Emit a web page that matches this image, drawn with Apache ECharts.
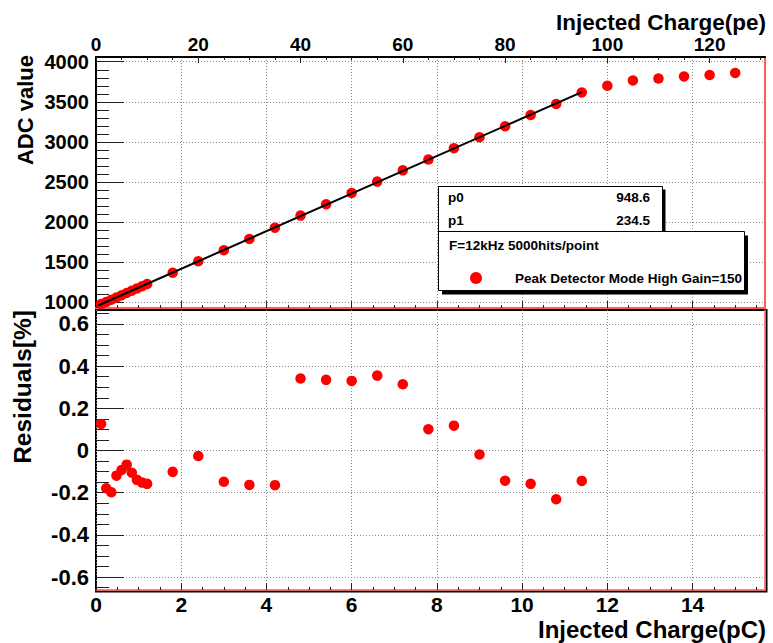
<!DOCTYPE html>
<html>
<head>
<meta charset="utf-8">
<script src="https://cdn.jsdelivr.net/npm/echarts@6/dist/echarts.min.js"></script>
<style>
html,body{margin:0;padding:0;background:#fff;}
#chart{width:773px;height:643px;}
</style>
</head>
<body>
<div id="chart"></div>
<script>
// ---- data ----
const chargePC = [0.12,0.24,0.36,0.48,0.60,0.72,0.84,0.96,1.08,1.20,1.8,2.4,3.0,3.6,4.2,4.8,5.4,6.0,6.6,7.2,7.8,8.4,9.0,9.6,10.2,10.8,11.4,12.0,12.6,13.2,13.8,14.4,15.0];
const adcValue = [978.0,1003.1,1031.0,1059.9,1088.3,1116.7,1144.4,1172.1,1200.0,1228.1,1369.3,1511.0,1649.7,1789.9,1930.3,2081.3,2222.3,2363.4,2505.2,2645.3,2780.5,2921.8,3058.5,3195.2,3335.2,3473.2,3616.7,3700,3766,3790,3816,3834,3860];
const residualPC = [0.12,0.24,0.36,0.48,0.60,0.72,0.84,0.96,1.08,1.20,1.8,2.4,3.0,3.6,4.2,4.8,5.4,6.0,6.6,7.2,7.8,8.4,9.0,9.6,10.2,10.8,11.4];
const residualPct = [0.126,-0.179,-0.198,-0.119,-0.092,-0.067,-0.105,-0.139,-0.152,-0.158,-0.101,-0.026,-0.148,-0.163,-0.164,0.341,0.335,0.330,0.355,0.314,0.101,0.118,-0.019,-0.143,-0.158,-0.231,-0.144];
const fitPC = [0.05, 11.4];
const fitADC = [960.3, 3621.9];
const fitParams = [["p0","948.6"],["p1","234.5"]];
const legendHeader = "F=12kHz 5000hits/point";
const seriesName = "Peak Detector Mode High Gain=150";

// tick labels
const pCTicks = [0,2,4,6,8,10,12,14];
const peTicks = [0,20,40,60,80,100,120];
const adcTicks = [1000,1500,2000,2500,3000,3500,4000];
const resTicks = [-0.6,-0.4,-0.2,0,0.2,0.4,0.6];

// ---- layout / style ----
const PE_PER_PC = 1/0.12;
const X_MAX = 15.7;
const PE_MAX = X_MAX*PE_PER_PC;
const ADC_MIN = 929, ADC_MAX = 4059;
const RES_MIN = -0.661, RES_MAX = 0.666;
const FONT = '"Liberation Sans", Arial, Helvetica, sans-serif';
const PINK = '#ff5c5c';
const GRIDLINE = {color:'#8a8a8a', width:1, type:[1,2]};

function steps(a, b, s){ const r=[]; for(let v=a; v<=b+1e-9; v+=s){ r.push(Math.round(v*1000)/1000); } return r; }
const minorPC = steps(0, 15.5, 0.5);
const minorPE = steps(0, 130, 5);
const minorADC = steps(1000, 4000, 100);
const minorRes = steps(-0.65, 0.65, 0.05);

const hidden = {axisLine:{show:false, onZero:false}, axisTick:{show:false}, axisLabel:{show:false}, splitLine:{show:false}};

function lab(size, margin, fmt, custom){
  return {show:true, customValues:custom, fontFamily:FONT, fontWeight:'bold', fontSize:size, color:'#000', margin:margin, formatter:fmt};
}
function ticks(len, custom){
  return {show:true, inside:true, length:len, customValues:custom, lineStyle:{color:'#222', width:1}};
}
function line(color, width){ return {show:true, onZero:false, lineStyle:{color:color, width:width}}; }

const chart = echarts.init(document.getElementById('chart'), null, {renderer:'svg'});

const option = {
  animation:false,
  backgroundColor:'#fff',
  grid:[
    {left:96, top:57, width:669, height:251, show:false},
    {left:96, top:310, width:669, height:280, show:false},
    {left:96, top:310, width:670.5, height:281.5, show:true, borderColor:'#000', borderWidth:2, backgroundColor:'transparent'}
  ],
  xAxis:[
    {gridIndex:0, type:'value', position:'bottom', min:0, max:X_MAX,
      axisLine:line(PINK, 2),
      axisTick:ticks(7, pCTicks), axisLabel:{show:false},
      splitLine:{show:true, lineStyle:GRIDLINE}},
    Object.assign({gridIndex:0, type:'value', position:'bottom', min:0, max:X_MAX}, hidden, {axisTick:ticks(3, minorPC)}),
    {gridIndex:0, type:'value', position:'top', min:0, max:PE_MAX,
      axisLine:line('#000', 2),
      axisTick:ticks(6, peTicks),
      axisLabel:lab(19, 3, v=>String(Math.round(v)), peTicks),
      splitLine:{show:false}},
    Object.assign({gridIndex:0, type:'value', position:'top', min:0, max:PE_MAX}, hidden, {axisTick:ticks(3, minorPE)}),
    {gridIndex:1, type:'value', position:'bottom', min:0, max:X_MAX,
      axisLine:line(PINK, 1.5),
      axisTick:ticks(7, pCTicks),
      axisLabel:lab(21, 4, v=>String(Math.round(v)), pCTicks),
      splitLine:{show:true, lineStyle:GRIDLINE}},
    Object.assign({gridIndex:1, type:'value', position:'bottom', min:0, max:X_MAX}, hidden, {axisTick:ticks(3, minorPC)}),
    Object.assign({gridIndex:2, type:'value', show:false, min:0, max:1}, hidden)
  ],
  yAxis:[
    {gridIndex:0, type:'value', position:'left', min:ADC_MIN, max:ADC_MAX,
      axisLine:line('#000', 2),
      axisTick:ticks(28, adcTicks),
      axisLabel:lab(20, 7, v=>String(Math.round(v)), adcTicks),
      splitLine:{show:true, lineStyle:GRIDLINE}},
    Object.assign({gridIndex:0, type:'value', position:'left', min:ADC_MIN, max:ADC_MAX}, hidden, {axisTick:ticks(13, minorADC)}),
    Object.assign({gridIndex:0, type:'value', position:'right', min:ADC_MIN, max:ADC_MAX}, hidden, {axisLine:line(PINK, 2)}),
    {gridIndex:1, type:'value', position:'left', min:RES_MIN, max:RES_MAX,
      axisLine:{show:false, onZero:false},
      axisTick:ticks(28, resTicks),
      axisLabel:lab(22, 7, v=>String(Math.round(v*10)/10), resTicks),
      splitLine:{show:true, lineStyle:GRIDLINE}},
    Object.assign({gridIndex:1, type:'value', position:'left', min:RES_MIN, max:RES_MAX}, hidden, {axisTick:ticks(13, minorRes)}),
    Object.assign({gridIndex:1, type:'value', position:'right', min:RES_MIN, max:RES_MAX}, hidden, {axisLine:line(PINK, 1.5)}),
    Object.assign({gridIndex:2, type:'value', show:false, min:0, max:1}, hidden)
  ],
  legend:{
    show:true, data:[seriesName], left:470, top:271, padding:0,
    icon:'circle', itemWidth:12, itemHeight:12, z:30,
    itemStyle:{color:'#ff0000', opacity:1},
    textStyle:{fontFamily:FONT, fontWeight:'bold', fontSize:13.5, color:'#000', padding:[0,0,0,28]}
  },
  series:[
    {type:'scatter', name:seriesName, xAxisIndex:0, yAxisIndex:0,
      data:chargePC.map((x,i)=>[x, adcValue[i]]),
      symbol:'circle', symbolSize:10.5, itemStyle:{color:'#ff0000', opacity:1}, z:3},
    {type:'line', name:'fit', xAxisIndex:0, yAxisIndex:0,
      data:fitPC.map((x,i)=>[x, fitADC[i]]),
      showSymbol:false, symbol:'none', lineStyle:{color:'#000', width:2}, z:4, silent:true},
    {type:'scatter', name:'residuals', xAxisIndex:4, yAxisIndex:3,
      data:residualPC.map((x,i)=>[x, residualPct[i]]),
      symbol:'circle', symbolSize:10.5, itemStyle:{color:'#ff0000', opacity:1}, z:3}
  ],
  graphic:[
    // stats box
    {type:'rect', z:20, shape:{x:441.5, y:189.5, width:224, height:46}, style:{fill:'#000'}},
    {type:'rect', z:21, shape:{x:438.5, y:186.5, width:224, height:46}, style:{fill:'#fff', stroke:'#000', lineWidth:1}},
    {type:'text', z:22, x:448, y:197, style:{text:fitParams[0][0], font:'bold 13.5px '+FONT, fill:'#000', align:'left', verticalAlign:'middle'}},
    {type:'text', z:22, x:650, y:197, style:{text:fitParams[0][1], font:'bold 13.5px '+FONT, fill:'#000', align:'right', verticalAlign:'middle'}},
    {type:'text', z:22, x:448, y:220, style:{text:fitParams[1][0], font:'bold 13.5px '+FONT, fill:'#000', align:'left', verticalAlign:'middle'}},
    {type:'text', z:22, x:650, y:220, style:{text:fitParams[1][1], font:'bold 13.5px '+FONT, fill:'#000', align:'right', verticalAlign:'middle'}},
    // legend box
    {type:'rect', z:23, shape:{x:442, y:235.5, width:306, height:59}, style:{fill:'#000'}},
    {type:'rect', z:24, shape:{x:438.5, y:231.5, width:306, height:59}, style:{fill:'#fff', stroke:'#000', lineWidth:1}},
    {type:'text', z:25, x:449, y:245, style:{text:legendHeader, font:'bold 13.5px '+FONT, fill:'#000', align:'left', verticalAlign:'middle'}},
    // axis titles
    {type:'text', z:25, x:25, y:55, rotation:Math.PI/2, style:{text:'ADC value', font:'bold 22px '+FONT, fill:'#000', align:'right', verticalAlign:'middle'}},
    {type:'text', z:25, x:22, y:310, rotation:Math.PI/2, style:{text:'Residuals[%]', font:'bold 24.5px '+FONT, fill:'#000', align:'right', verticalAlign:'middle'}},
    {type:'text', z:25, x:766, y:22, style:{text:'Injected Charge(pe)', font:'bold 22.5px '+FONT, fill:'#000', align:'right', verticalAlign:'middle'}},
    {type:'text', z:25, x:766, y:629.5, style:{text:'Injected Charge(pC)', font:'bold 24px '+FONT, fill:'#000', align:'right', verticalAlign:'middle'}}
  ]
};
chart.setOption(option);
</script>
</body>
</html>
